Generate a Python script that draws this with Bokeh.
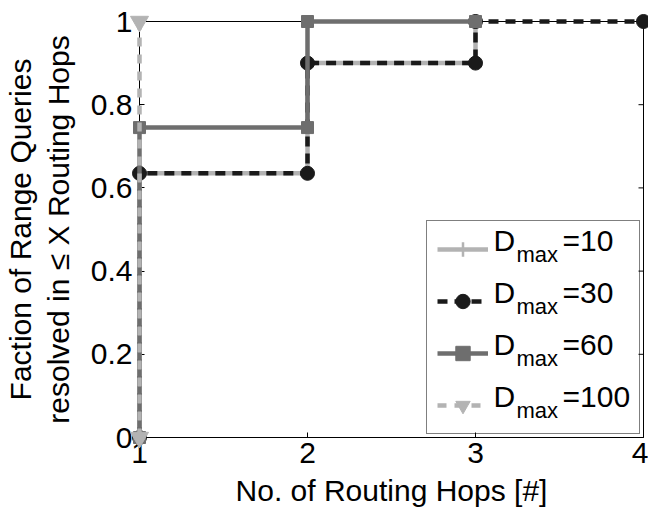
from bokeh.plotting import figure
from bokeh.models import Range1d, FixedTicker, Legend, LegendItem, Label
from bokeh.embed import file_html
from bokeh.resources import INLINE

# ---------------- data ----------------
x_ticks = [1, 2, 3, 4]
x_tick_labels = ["1", "2", "3", "4"]
y_ticks = [0, 0.2, 0.4, 0.6, 0.8, 1]
y_tick_labels = ["0", "0.2", "0.4", "0.6", "0.8", "1"]

series_names = ["10", "30", "60", "100"]

hops_10 = [1, 1, 2, 2, 3, 3]
frac_10 = [0, 0.635, 0.635, 0.9, 0.9, 1.0]

hops_30 = [1, 1, 2, 2, 3, 3, 4]
frac_30 = [0, 0.635, 0.635, 0.9, 0.9, 1.0, 1.0]

hops_60 = [1, 1, 2, 2, 3]
frac_60 = [0, 0.745, 0.745, 1.0, 1.0]

hops_100 = [1, 1]
frac_100 = [0, 1.0]

x_label = "No. of Routing Hops [#]"
y_label = "Faction of Range Queries\nresolved in \u2264 X Routing Hops"

# ---------------- styling ----------------
FONT = "Liberation Sans"
FS = "30px"
LIGHT = "#b3b3b3"
DARK = "#6e6e6e"
BLACK = "#1a1a1a"
FW, FH = 504, 416
X0, X1, Y0, Y1 = 1, 4, 0, 1

p = figure(frame_width=FW, frame_height=FH,
           x_range=Range1d(X0, X1), y_range=Range1d(Y0, Y1),
           output_backend="svg", toolbar_location=None,
           min_border_left=139, min_border_top=21,
           min_border_right=5, min_border_bottom=73)
p.grid.visible = False
p.outline_line_color = "black"
p.outline_line_width = 1
p.background_fill_color = "white"
p.border_fill_color = "white"

for ax, ticks, labels in ((p.xaxis[0], x_ticks, x_tick_labels), (p.yaxis[0], y_ticks, y_tick_labels)):
    ax.ticker = FixedTicker(ticks=ticks)
    ax.major_label_overrides = dict(zip(ticks, labels))
    ax.major_tick_in = 5
    ax.major_tick_out = 0
    ax.minor_tick_in = 0
    ax.minor_tick_out = 0
    ax.axis_line_color = "black"
    ax.major_tick_line_color = "black"
    ax.major_label_text_font = FONT
    ax.major_label_text_font_size = FS
    ax.major_label_text_color = "black"
    ax.axis_label_text_font = FONT
    ax.axis_label_text_font_size = FS
    ax.axis_label_text_font_style = "normal"
    ax.axis_label_text_color = "black"

p.xaxis.axis_label = x_label
p.yaxis.axis_label = y_label
p.xaxis.major_label_standoff = 5
p.xaxis.axis_label_standoff = 8
p.yaxis.major_label_standoff = 7
p.yaxis.axis_label_standoff = 13
p.yaxis.axis_label_text_line_height = 1.15

# mirrored inward tick marks on the right and top edges of the box
tick_dx = (X1 - X0) * 5 / FW
tick_dy = (Y1 - Y0) * 5 / FH
p.segment(x0=[X1] * len(y_ticks), y0=y_ticks, x1=[X1 - tick_dx] * len(y_ticks), y1=y_ticks,
          line_color="black", line_width=1)
p.segment(x0=x_ticks, y0=[Y1] * len(x_ticks), x1=x_ticks, y1=[Y1 - tick_dy] * len(x_ticks),
          line_color="black", line_width=1)

# ---------------- series ----------------
items = []

l10 = p.line(hops_10, frac_10, line_color=LIGHT, line_width=4.5, level="overlay")
s10 = p.scatter(hops_10, frac_10, marker="cross", size=9, line_color=LIGHT, line_width=2.5, level="overlay")
items.append(LegendItem(label="", renderers=[l10, s10]))

l30 = p.line(hops_30, frac_30, line_color=BLACK, line_width=4.5, line_dash="10 7", level="overlay")
s30 = p.scatter(hops_30, frac_30, marker="circle", size=14, fill_color=BLACK, line_color=BLACK, level="overlay")
items.append(LegendItem(label="", renderers=[l30, s30]))

l60 = p.line(hops_60, frac_60, line_color=DARK, line_width=4.5, level="overlay")
s60 = p.scatter(hops_60, frac_60, marker="square", size=12, fill_color=DARK, line_color=DARK, level="overlay")
items.append(LegendItem(label="", renderers=[l60, s60]))

l100 = p.line(hops_100, frac_100, line_color=LIGHT, line_width=4.5, line_dash="9 8", level="overlay")
s100 = p.scatter(hops_100, frac_100, marker="inverted_triangle", size=18, fill_color=LIGHT, line_color=LIGHT, level="overlay")
items.append(LegendItem(label="", renderers=[l100, s100]))

LEG_X, LEG_Y = 287, 3  # legend box position (px from frame bottom-left)
legend = Legend(items=items, location=(LEG_X, LEG_Y), orientation="vertical",
                padding=10, spacing=16, margin=0,
                glyph_width=51, glyph_height=36, label_height=36,
                label_width=138, label_standoff=3,
                label_text_font=FONT, label_text_font_size=FS,
                label_text_color="black",
                border_line_color="black", border_line_width=1,
                background_fill_color="white", background_fill_alpha=0.0)
p.add_layout(legend, "center")


def px_to_x(px):
    return X0 + px * (X1 - X0) / FW


def px_to_y(py):
    return Y0 + py * (Y1 - Y0) / FH


# legend label texts: "D" with subscript "max" and the value
TEXT_RAISE = 10
row_top = LEG_Y + 212 - 10 - 18  # frame-relative y (up) of first row centre
for i, name in enumerate(series_names):
    yb = row_top - 52 * i + TEXT_RAISE
    p.add_layout(Label(x=px_to_x(LEG_X + 67), y=px_to_y(yb), text="D",
                       text_font=FONT, text_font_size=FS, text_baseline="alphabetic",
                       text_color="black", level="overlay"))
    p.add_layout(Label(x=px_to_x(LEG_X + 90), y=px_to_y(yb - 14), text="max",
                       text_font=FONT, text_font_size="22px", text_baseline="alphabetic",
                       text_color="black", level="overlay"))
    p.add_layout(Label(x=px_to_x(LEG_X + 136), y=px_to_y(yb), text="=" + name,
                       text_font=FONT, text_font_size=FS, text_baseline="alphabetic",
                       text_color="black", level="overlay"))

open("out.html", "w").write(file_html(p, INLINE))
